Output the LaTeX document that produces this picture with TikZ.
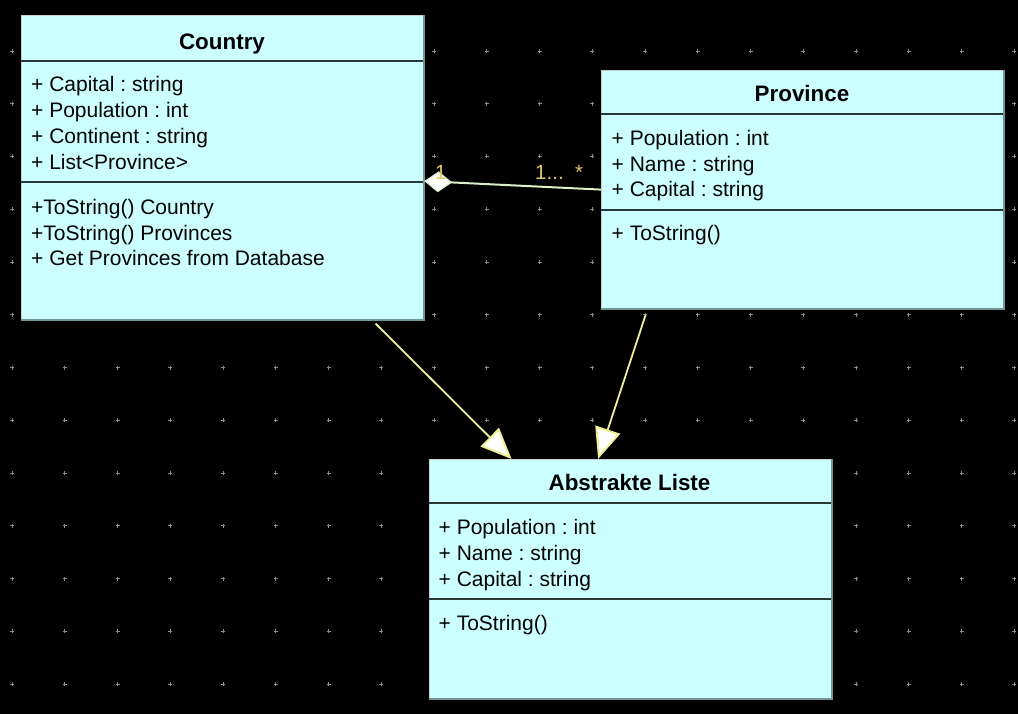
\documentclass[tikz,border=0pt]{standalone}
\usepackage{fontspec}
\setmainfont{Liberation Sans}
\usetikzlibrary{arrows.meta}
\frenchspacing

\definecolor{classfill}{RGB}{204,255,255}
\definecolor{edgelight}{RGB}{196,206,206}
\definecolor{edgeshade}{RGB}{112,150,150}
\definecolor{sepgray}{RGB}{40,56,56}
\definecolor{gengold}{RGB}{240,240,140}
\definecolor{aggrgreen}{RGB}{220,240,200}
\definecolor{multgold}{RGB}{228,200,100}
\definecolor{gridgray}{RGB}{140,140,140}

\begin{document}
\begin{tikzpicture}[x=1pt,y=-1pt,
  classbox/.style={draw=edgelight,fill=classfill,line width=1.2pt,anchor=north west,
    inner sep=0pt,minimum width=402pt},
  boxshade/.style={draw=edgeshade,line width=2pt},
  sepline/.style={draw=sepgray,line width=2pt},
  classtitle/.style={font=\fontsize{22.4}{26}\selectfont\bfseries,anchor=base,inner sep=0pt},
  members/.style={font=\fontsize{21}{25.8}\selectfont,align=left,anchor=north west,inner sep=0pt},
  mult/.style={font=\fontsize{20.5}{24}\selectfont,text=multgold,anchor=base west,inner sep=0pt},
  generalize/.style={draw=gengold,line width=1.8pt,
    -{Triangle[length=31pt,width=26pt,fill=white,line width=2pt]}},
  aggregate/.style={draw=aggrgreen,line width=2pt,
    -{Diamond[length=28pt,width=21pt,fill=white,line width=1.2pt]}},
  gridmark/.style={draw=gridgray,line width=0.6pt}]

  \fill[black] (0,0) rectangle (1018,714);   % background
  \foreach \i in {0,...,19}
    \foreach \j in {0,...,12}
      \draw[gridmark] ({12+52.75*\i},{51+52.75*\j}) +(-2,0) -- +(2,0) +(0,-2) -- +(0,2);

  % classes
  \node[classbox,minimum height=304pt] (country) at (21,15) {};
  \node[classbox,minimum height=238pt] (province) at (601,70) {};
  \node[classbox,minimum height=239pt] (liste) at (428.5,459) {};
  \foreach \c in {country,province,liste}
    \draw[boxshade] (\c.north east) -- (\c.south east) -- (\c.south west);

  \draw[sepline] (21,60.7) -- (423,60.7);
  \draw[sepline] (21,182.3) -- (423,182.3);
  \draw[sepline] (601,113.7) -- (1003,113.7);
  \draw[sepline] (601,210.3) -- (1003,210.3);
  \draw[sepline] (428.5,502.7) -- (830.5,502.7);
  \draw[sepline] (428.5,599.3) -- (830.5,599.3);

  \node[classtitle] (country-title) at (222,49.3) {Country};
  \node[members] (country-attr) at (31,76.3)
    {+ Capital : string\\+ Population : int\\+ Continent : string\\+ List<Province>};
  \node[members] (country-ops) at (31,198.8)
    {+ToString() Country\\+ToString() Provinces\\+ Get Provinces from Database};

  \node[classtitle] (province-title) at (802,101.7) {Province};
  \node[members] (province-attr) at (611.5,129.8)
    {+ Population : int\\+ Name : string\\+ Capital : string};
  \node[members] (province-ops) at (611.5,225.5) {+ ToString()};

  \node[classtitle] (liste-title) at (629.5,490.7) {Abstrakte Liste};
  \node[members] (liste-attr) at (438.5,519.1)
    {+ Population : int\\+ Name : string\\+ Capital : string};
  \node[members] (liste-ops) at (438.5,614.8) {+ ToString()};

  % relations
  \draw[aggregate] (province.west) -- ([shift={(0,13.5)}]country.east);
  \node[mult] (mult-country) at (435,180) {1};
  \node[mult] (mult-province) at (535,180) {1...};
  \node[mult] (mult-star) at (575,180) {*};

  \draw[generalize] ([shift={(153,3.4)}]country.south) -- ([shift={(-118.5,0)}]liste.north);
  \draw[generalize] ([shift={(-157,5.7)}]province.south) -- ([shift={(-32,0)}]liste.north);
\end{tikzpicture}
\end{document}
